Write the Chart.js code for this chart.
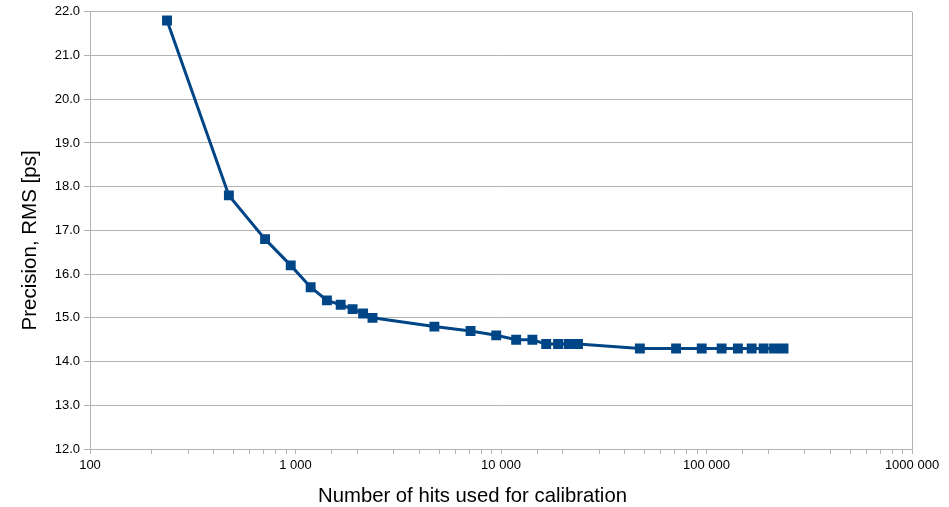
<!DOCTYPE html>
<html>
<head>
<meta charset="utf-8">
<script src="https://cdn.jsdelivr.net/npm/chart.js@4/dist/chart.umd.min.js"></script>
<style>
html,body{margin:0;padding:0;background:#fff;}
#wrap{width:949px;height:507px;position:relative;}
</style>
</head>
<body>
<div id="wrap"><canvas id="c" width="949" height="507"></canvas></div>
<script>
const hits = [237, 474, 711, 948, 1185, 1422, 1659, 1896, 2133, 2370,
  4740, 7110, 9480, 11850, 14220, 16590, 18960, 21330, 23700,
  47400, 71100, 94800, 118500, 142200, 165900, 189600, 213300, 237000];
const rms = [21.8, 17.8, 16.8, 16.2, 15.7, 15.4, 15.3, 15.2, 15.1, 15.0,
  14.8, 14.7, 14.6, 14.5, 14.5, 14.4, 14.4, 14.4, 14.4,
  14.3, 14.3, 14.3, 14.3, 14.3, 14.3, 14.3, 14.3, 14.3];
const xTickValues = [100, 1000, 10000, 100000, 1000000];
const xTickLabels = ["100", "1 000", "10 000", "100 000", "1000 000"];
const xTitle = "Number of hits used for calibration";
const yTitle = "Precision, RMS [ps]";

const extrasPlugin = {
  id: 'extras',
  afterDraw(chart) {
    const a = chart.chartArea, ctx = chart.ctx;
    ctx.save();
    ctx.strokeStyle = '#b3b3b3';
    ctx.lineWidth = 1;
    ctx.beginPath();
    ctx.moveTo(Math.round(a.right) + 0.5, a.top);
    ctx.lineTo(Math.round(a.right) + 0.5, a.bottom);
    ctx.stroke();
    ctx.fillStyle = '#000';
    ctx.textAlign = 'center';
    // x axis title
    ctx.font = '20.3px "Liberation Sans"';
    ctx.textBaseline = 'alphabetic';
    ctx.fillText(xTitle, chart.width / 2 - 2, a.bottom + 53);
    // y axis title
    ctx.translate(30, (a.top + a.bottom) / 2 + 10);
    ctx.rotate(-Math.PI / 2);
    ctx.font = '20.5px "Liberation Sans"';
    ctx.textBaseline = 'middle';
    ctx.fillText(yTitle, 0, 0);
    ctx.restore();
  }
};

new Chart(document.getElementById('c'), {
  type: 'line',
  data: {
    datasets: [{
      data: hits.map((h, i) => ({x: h, y: rms[i]})),
      borderColor: '#004586',
      backgroundColor: '#004586',
      borderWidth: 3,
      pointStyle: 'rect',
      pointRadius: 7,
      pointHoverRadius: 7,
      pointBorderWidth: 0,
      tension: 0
    }]
  },
  options: {
    responsive: false,
    animation: false,
    layout: {padding: {top: 10, right: 37, left: 0, bottom: 0}},
    plugins: {
      legend: {display: false},
      tooltip: {enabled: false},
      title: {display: false}
    },
    scales: {
      x: {
        type: 'logarithmic',
        min: 100,
        max: 1000000,
        afterFit(s) { s.height = 58; },
        border: {display: true, color: '#b3b3b3', width: 1},
        grid: {display: true, drawOnChartArea: false, drawTicks: true, tickLength: 5, color: '#b3b3b3'},
        ticks: {
          autoSkip: false,
          maxRotation: 0,
          padding: 4,
          color: '#000',
          font: {family: 'Liberation Sans', size: 13},
          callback(v) {
            const i = xTickValues.indexOf(Number(v));
            return i >= 0 ? xTickLabels[i] : '';
          }
        }
      },
      y: {
        min: 12,
        max: 22,
        afterFit(s) { s.width = 90; },
        border: {display: true, color: '#b3b3b3', width: 1},
        grid: {color: '#b3b3b3', lineWidth: 1, tickLength: 6, drawTicks: true},
        ticks: {
          stepSize: 1,
          padding: 4,
          color: '#000',
          font: {family: 'Liberation Sans', size: 13},
          callback(v) { return Number(v).toFixed(1); }
        }
      }
    }
  },
  plugins: [extrasPlugin]
});
</script>
</body>
</html>
